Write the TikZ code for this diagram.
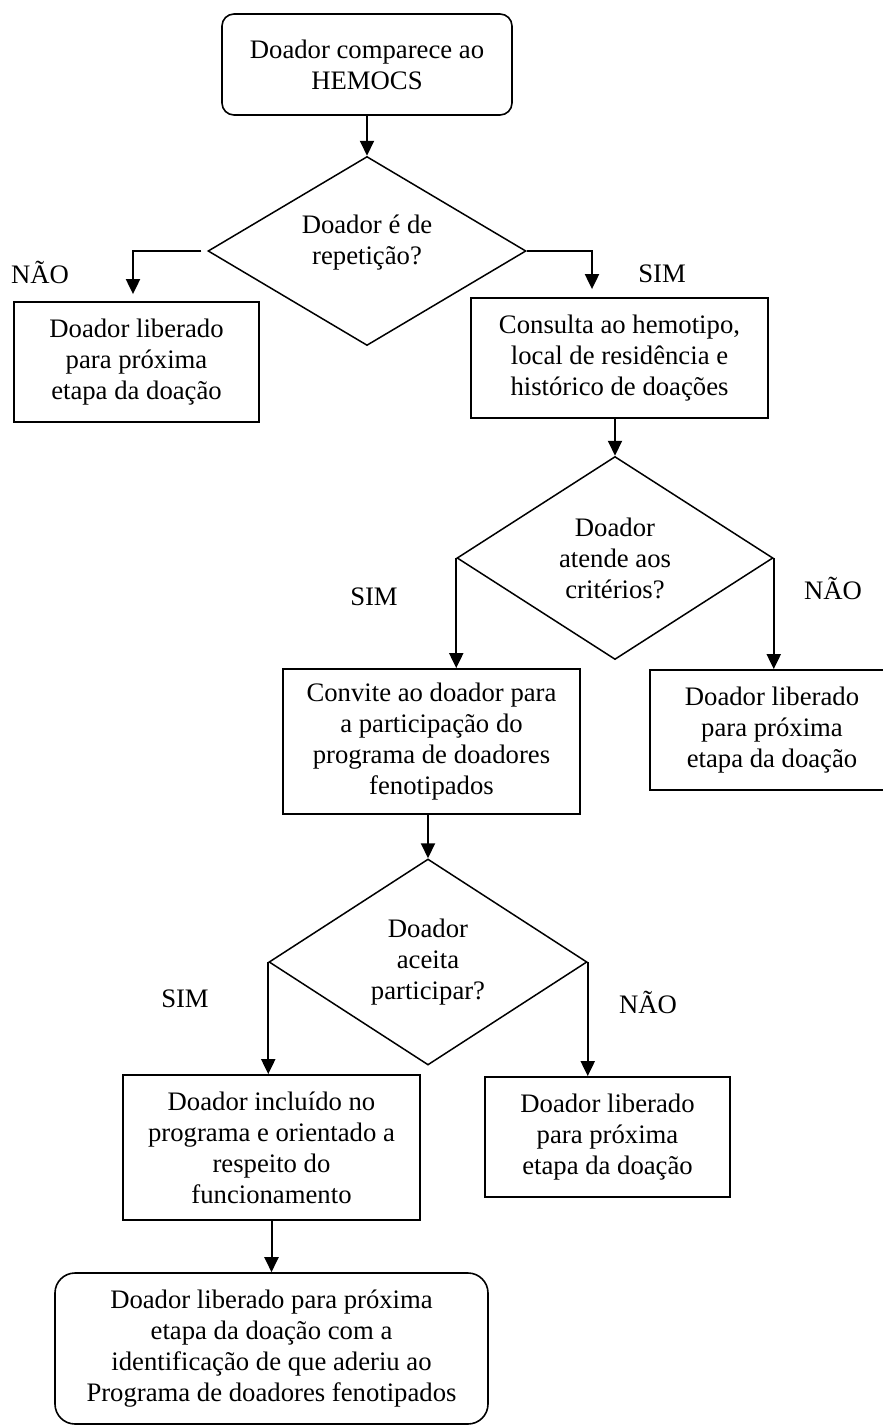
\documentclass[tikz,border=0pt]{standalone}
\usepackage{fontspec}
\setmainfont{Liberation Serif}
\usetikzlibrary{shapes.geometric,arrows.meta}
\begin{document}
\begin{tikzpicture}[x=1pt,y=-1pt,
  every node/.style={font=\fontsize{26.7}{31}\selectfont, align=center, inner sep=0pt},
  procbox/.style={draw, line width=1.8pt, rectangle, minimum width=#1},
  termbox/.style={draw, line width=1.6pt, rectangle, rounded corners=#1},
  decision/.style={draw, line width=1.5pt, diamond, inner sep=0pt},
  arr/.style={line width=2pt, -{Triangle[length=15pt,width=14pt]}},
  lbl/.style={font=\fontsize{26.7}{31}\selectfont}
]
\useasboundingbox (0,0) rectangle (883,1427);
\fill[white] (0,0) rectangle (883,1427);
\clip (0,0) rectangle (883,1427);

% nodes
\node[termbox=12pt, minimum width=290pt, minimum height=101pt] (top) at (367,64.5) {Doador comparece ao\\HEMOCS};
\node[decision, minimum width=318pt, minimum height=189pt] (d1) at (367,251) {};
\node (d1t) at (367,243) {Doador é de\\repetição?};
\node[procbox=245pt, minimum height=120pt] (lbox) at (136.5,362) {Doador liberado\\para próxima\\etapa da doação};
\node[procbox=297pt, minimum height=120pt] (rbox) at (619.5,358) {Consulta ao hemotipo,\\local de residência e\\histórico de doações};
\node[decision, minimum width=316pt, minimum height=203pt] (d2) at (615,558) {Doador\\atende aos\\critérios?};
\node[procbox=297pt, minimum height=145pt] (mbox) at (431.5,741.5) {Convite ao doador para\\a participação do\\programa de doadores\\fenotipados};
\node[procbox=244pt, minimum height=120pt] (rbox2) at (772,730) {Doador liberado\\para próxima\\etapa da doação};
\node[decision, minimum width=318pt, minimum height=206pt] (d3) at (428,962) {Doador\\aceita\\participar?};
\node[procbox=297pt, minimum height=145pt] (b3l) at (271.5,1147.5) {Doador incluído no\\programa e orientado a\\respeito do\\funcionamento};
\node[procbox=245pt, minimum height=120pt] (b3r) at (607.5,1137) {Doador liberado\\para próxima\\etapa da doação};
\node[termbox=20pt, minimum width=433pt, minimum height=151pt] (fin) at (271.5,1348.5) {Doador liberado para próxima\\etapa da doação com a\\identificação de que aderiu ao\\Programa de doadores fenotipados};

% labels
\node[lbl] (nao1) at (40,272) {NÃO};
\node[lbl] (sim1) at (662,274) {SIM};
\node[lbl] (sim2) at (374,597) {SIM};
\node[lbl] (nao2) at (833,588) {NÃO};
\node[lbl] (sim3) at (185,999) {SIM};
\node[lbl] (nao3) at (648,1002) {NÃO};

% connectors
\draw[arr] (d1.north |- top.south) -- (d1.north);
\draw[arr] ([xshift=-6pt]d1.west) -| ([xshift=-3.5pt,yshift=7pt]lbox.north);
\draw[arr] (d1.east) -| ([xshift=-27.5pt,yshift=8pt]rbox.north);
\draw[arr] (d2.north |- rbox.south) -- (d2.north);
\draw[arr] (d2.west) -- (d2.west |- mbox.north);
\draw[arr] (d2.east) -- (d2.east |- rbox2.north);
\draw[arr] (d3.north |- mbox.south) -- (d3.north);
\draw[arr] (d3.west) -- (d3.west |- b3l.north);
\draw[arr] (d3.east) -- (d3.east |- b3r.north);
\draw[arr] (b3l.south) -- (fin.north);
\end{tikzpicture}
\end{document}
